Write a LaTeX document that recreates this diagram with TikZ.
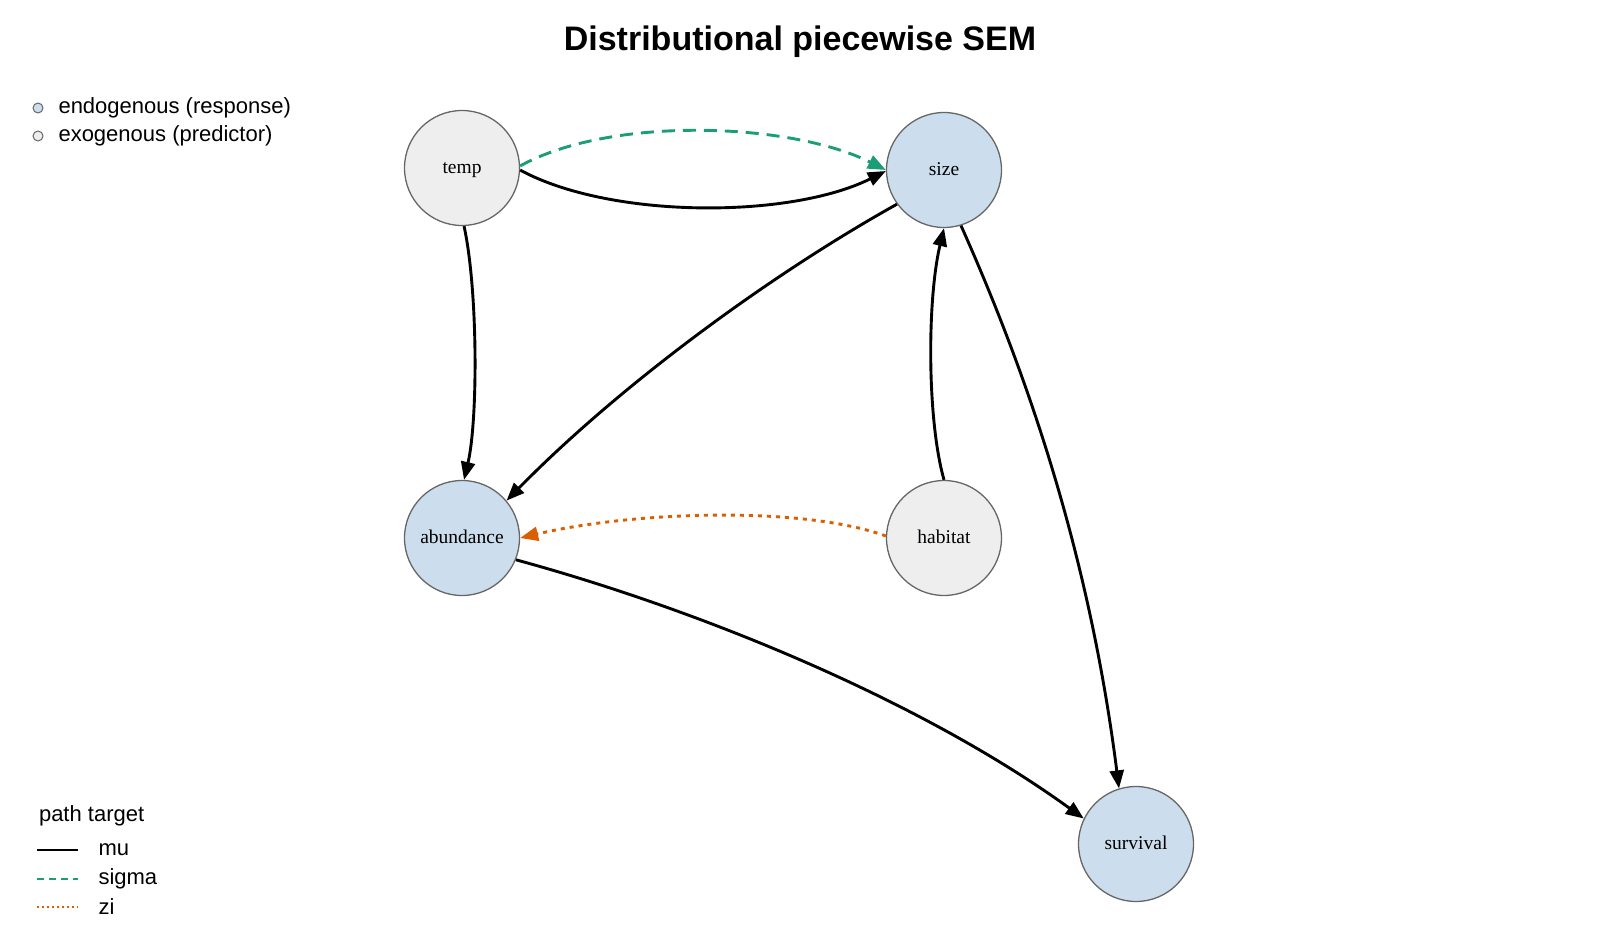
\documentclass[tikz,border=0pt]{standalone}
\usepackage{fontspec}
\setmainfont{Liberation Sans}
\newfontfamily\nodefont{Liberation Serif}
\usetikzlibrary{arrows.meta}
\definecolor{endo}{HTML}{CCDDED}
\definecolor{exo}{HTML}{EEEEEE}
\definecolor{rim}{HTML}{666666}
\definecolor{sigmacol}{HTML}{1B9E77}
\definecolor{zicol}{HTML}{D95F02}
\begin{document}
\begin{tikzpicture}[x=1pt,y=-1pt,
	var/.style={circle,draw=rim,line width=1.3pt,minimum size=115pt,inner sep=0pt,text height=14pt,text depth=4pt,font=\nodefont\fontsize{19.5}{20}\selectfont},
	endog/.style={var,fill=endo},
	exog/.style={var,fill=exo},
	mu/.style={line width=2.9pt,-{Triangle[length=18pt,width=14pt]}},
	sigma/.style={mu,draw=sigmacol,dash pattern=on 13pt off 8pt},
	zi/.style={mu,draw=zicol,dash pattern=on 4pt off 5pt},
	key/.style={circle,draw=rim,line width=1pt,minimum size=10pt,inner sep=0pt},
	keytext/.style={anchor=west,font=\fontsize{22}{26}\selectfont}]
	\useasboundingbox (0,0) rectangle (1600,950);
	\node[font=\bfseries\fontsize{34}{34}\selectfont] (title) at (800,42) {Distributional piecewise SEM};
	% variables
	\node[exog] (temp) at (462,168) {temp};
	\node[endog] (size) at (944,170) {size};
	\node[endog] (abundance) at (462,538) {abundance};
	\node[exog] (habitat) at (944,538) {habitat};
	\node[endog] (survival) at (1136,844) {survival};
	% paths
	\draw[mu] (temp.-2) .. controls (610,219) and (790,219) .. (size.181);
	\draw[sigma] (temp.2) .. controls (610,116) and (790,122) .. (size.180);
	\draw[mu] (temp.-88) .. controls (478,290) and (478,420) .. (abundance.88);
	\draw[mu] (size.216) .. controls (770,275) and (620,385) .. (abundance.40);
	\draw[mu] (habitat.90) .. controls (927,420) and (927,300) .. (size.-90);
	\draw[mu] (size.-73) .. controls (1030,380) and (1090,560) .. (survival.107);
	\draw[mu] (abundance.-22) .. controls (700,610) and (920,700) .. (survival.154);
	\draw[zi] (habitat.178) .. controls (800,505) and (630,512) .. (abundance.0);
	% legend
	\node[key,fill=endo] (keyendo) at (38,108) {};
	\node[keytext] (keyendotext) at (55,108) {endogenous (response)};
	\node[key,fill=exo] (keyexo) at (38,136) {};
	\node[keytext] (keyexotext) at (55,136) {exogenous (predictor)};
	\node[keytext] (pathkey) at (35.5,816) {path target};
	\draw[line width=1.3pt] (37,850) -- (78,850);
	\node[keytext] (keymu) at (95,850) {mu};
	\draw[line width=1.3pt,sigmacol,dash pattern=on 7pt off 5pt] (37,879) -- (78,879);
	\node[keytext] (keysigma) at (95,879) {sigma};
	\draw[line width=1.3pt,zicol,dash pattern=on 2pt off 3pt] (37,907) -- (78,907);
	\node[keytext] (keyzi) at (95,907) {zi};
\end{tikzpicture}
\end{document}
